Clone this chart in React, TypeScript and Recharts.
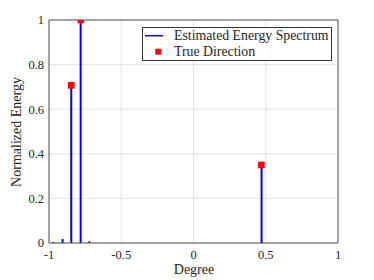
import React from 'react';
import { ComposedChart, Line, Scatter, XAxis, YAxis, ZAxis, CartesianGrid, Legend } from 'recharts';

const spikeAngles = [-0.97, -0.906, -0.846, -0.781, -0.72, 0.471];
const spikeEnergies = [0.005, 0.018, 0.7, 1.0, 0.008, 0.345];
const trueAngles = [-0.846, -0.78, 0.47];
const trueEnergies = [0.707, 1.0, 0.35];
const xTicks = [-1, -0.5, 0, 0.5, 1];
const yTicks = [0, 0.2, 0.4, 0.6, 0.8, 1];

const FONT = "'Liberation Serif', 'DejaVu Serif', serif";
const AXIS = '#555555';
const TEXT = '#262626';

const spikeSeries = spikeAngles.map((a, i) => [
  { x: a, y: 0 },
  { x: a, y: spikeEnergies[i] },
]);
const trueData = trueAngles.map((a, i) => ({ x: a, y: trueEnergies[i] }));

const LegendBox = () => (
  <svg width={190} height={35} style={{ display: 'block' }}>
    <rect x={0.5} y={0.5} width={189} height={33} fill="#ffffff" stroke="#333333" strokeWidth={1} />
    <line x1={3} x2={21} y1={8.7} y2={8.7} stroke="#0000ff" strokeWidth={1.5} />
    <rect x={13.3} y={21.7} width={6} height={6} fill="#ff0000" />
    <text x={32} y={12.5} style={{ fontFamily: FONT, fontSize: 13.8 }} fill={TEXT}>Estimated Energy Spectrum</text>
    <text x={32} y={28.5} style={{ fontFamily: FONT, fontSize: 13.8 }} fill={TEXT}>True Direction</text>
  </svg>
);

const tickStyle = { fontFamily: FONT, fontSize: 12.5, fill: TEXT, style: { fontFamily: FONT } };

export default function App() {
  return (
    <div style={{ position: 'absolute', left: 0, top: 0, fontFamily: FONT }}>
      <ComposedChart width={374} height={280} margin={{ top: 20, right: 36, bottom: 7, left: 0 }} style={{ fontFamily: FONT }}>
        <CartesianGrid stroke="#e3e3e3" strokeWidth={1} />
        <ZAxis range={[44, 44]} />
        <XAxis
          dataKey="x"
          type="number"
          domain={[-1, 1]}
          ticks={xTicks}
          allowDataOverflow
          height={30}
          tickLine={false}
          tickSize={0}
          tickMargin={7}
          axisLine={{ stroke: AXIS }}
          tick={tickStyle}
          label={() => (
            <text x={194} y={274} textAnchor="middle" style={{ fontFamily: FONT, fontSize: 14 }} fill={TEXT}>Degree</text>
          )}
        />
        <XAxis xAxisId="xb2" dataKey="x" type="number" domain={[-1, 1]} ticks={xTicks} allowDataOverflow orientation="bottom" mirror tick={false} tickSize={3} axisLine={false} tickLine={{ stroke: AXIS }} />
        <XAxis xAxisId="xt" dataKey="x" type="number" domain={[-1, 1]} ticks={xTicks} allowDataOverflow orientation="top" mirror tick={false} tickSize={3} axisLine={{ stroke: AXIS }} tickLine={{ stroke: AXIS }} />
        <YAxis
          type="number"
          domain={[0, 1]}
          ticks={yTicks}
          allowDataOverflow
          width={49}
          tickLine={false}
          tickSize={0}
          tickMargin={5}
          axisLine={{ stroke: AXIS }}
          tick={tickStyle}
          label={() => (
            <text x={21} y={132} transform="rotate(-90 21 132)" textAnchor="middle" style={{ fontFamily: FONT, fontSize: 14 }} fill={TEXT}>Normalized Energy</text>
          )}
        />
        <YAxis yAxisId="yl2" type="number" domain={[0, 1]} ticks={yTicks} allowDataOverflow orientation="left" mirror tick={false} tickSize={3} axisLine={false} tickLine={{ stroke: AXIS }} />
        <YAxis yAxisId="yr" type="number" domain={[0, 1]} ticks={yTicks} allowDataOverflow orientation="right" mirror tick={false} tickSize={3} axisLine={{ stroke: AXIS }} tickLine={{ stroke: AXIS }} />
        {spikeSeries.map((d, i) => (
          <Line
            key={i}
            data={d}
            dataKey="y"
            type="linear"
            stroke="#0000ff"
            strokeWidth={2}
            dot={false}
            activeDot={false}
            isAnimationActive={false}
            legendType="none"
          />
        ))}
        <Scatter data={trueData} dataKey="y" shape="square" fill="#ff0000" isAnimationActive={false} legendType="none" />
        <Legend
          layout="vertical"
          align="center"
          verticalAlign="middle"
          content={() => <LegendBox />}
          wrapperStyle={{ position: 'absolute', left: 142, top: 27, width: 190, height: 35 }}
        />
      </ComposedChart>
    </div>
  );
}
